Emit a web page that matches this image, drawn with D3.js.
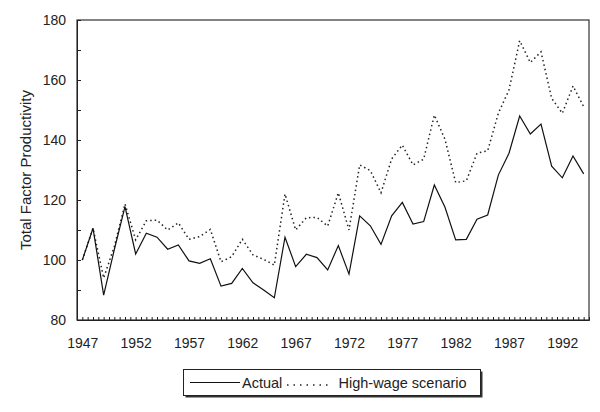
<!DOCTYPE html>
<html><head><meta charset="utf-8">
<script src="https://cdn.jsdelivr.net/npm/d3@7"></script>
<style>
body{margin:0;background:#fff;}
svg{display:block;font-family:"Liberation Sans",Arial,Helvetica,sans-serif;}
</style></head><body>
<svg id="c" width="600" height="412"></svg>
<script>
const years = d3.range(1947, 1995);
const actual = [100,110.6,88.3,103.5,117.8,102,108.9,107.6,103.6,105,99.7,98.9,100.4,91.3,92.2,
 97.2,92.4,90,87.4,107.6,97.8,101.9,100.8,96.7,104.8,95.3,114.7,111.4,105.2,114.7,
 119.2,112,112.8,125,117.6,106.7,106.9,113.6,115,128.3,135.6,148,142,145.3,131.3,127.4,134.7,128.7];
const highWage = [100,110.6,94,104.5,118.7,106.7,113.1,113.3,110,112.4,106.9,107.8,110.2,99.4,101.1,
 106.9,101.7,100.2,98.3,122,110,114.1,114.2,111.3,122.4,110,131.7,129.8,122.4,133.7,
 138.3,131.7,133.6,148.3,140.2,125.8,126.4,135.6,136.4,148.9,156.7,173.1,165.8,169.4,153.9,148.9,158,151.1];
const xTickLabels = [1947,1952,1957,1962,1967,1972,1977,1982,1987,1992];
const yTickLabels = [80,100,120,140,160,180];
const seriesNames = ["Actual","High-wage scenario"];

const svg = d3.select("#c");
const L=77, R=589, T=20, B=320;
const x = d3.scaleLinear().domain([1946.5,1994.5]).range([L,R]);
const y = d3.scaleLinear().domain([80,180]).range([B,T]);

svg.append("rect").attr("x",L).attr("y",T).attr("width",R-L).attr("height",B-T)
  .attr("fill","none").attr("stroke","#333").attr("stroke-width",1.2);

const yAx = d3.axisLeft(y).tickValues(d3.range(80,181,10)).tickSize(-4)
  .tickFormat(d => yTickLabels.includes(d) ? d : "");
const gy = svg.append("g").attr("transform",`translate(${L},0)`).call(yAx);
gy.select(".domain").attr("stroke","#222");
gy.selectAll(".tick line").attr("stroke","#222");
gy.selectAll("text").attr("x",-11).attr("font-size",14).attr("fill","#222")
  .style("font-family","Liberation Sans, Arial, sans-serif");

const xAx = d3.axisBottom(x).tickValues(d3.range(1946.5,1994.51,0.5)).tickSize(-3).tickFormat("");
const gx = svg.append("g").attr("transform",`translate(0,${B})`).call(xAx);
gx.select(".domain").attr("stroke","#222");
gx.selectAll(".tick line").attr("stroke","#222");
const xLab = d3.axisBottom(x).tickValues(xTickLabels).tickSize(0).tickFormat(d3.format("d"));
const gl = svg.append("g").attr("transform",`translate(0,${B})`).call(xLab);
gl.select(".domain").remove();
gl.selectAll("text").attr("y",18).attr("font-size",14).attr("fill","#222")
  .style("font-family","Liberation Sans, Arial, sans-serif");

svg.append("text").attr("transform",`translate(31,${(T+B)/2}) rotate(-90)`)
  .attr("text-anchor","middle").attr("font-size",15).attr("fill","#222").text("Total Factor Productivity");

const line = d3.line().x((d,i)=>x(years[i])).y(d=>y(d));
svg.append("path").datum(highWage).attr("d",line).attr("fill","none")
  .attr("stroke","#222").attr("stroke-width",1.5).attr("stroke-dasharray","1.5,3");
svg.append("path").datum(actual).attr("d",line).attr("fill","none")
  .attr("stroke","#111").attr("stroke-width",1.2);

const lg = svg.append("g");
lg.append("rect").attr("x",185.5).attr("y",371.5).attr("width",297).attr("height",26).attr("fill","#333");
lg.append("rect").attr("x",183.5).attr("y",369.5).attr("width",297).attr("height",26)
  .attr("fill","#fff").attr("stroke","#222").attr("stroke-width",1);
lg.append("line").attr("x1",190).attr("x2",240).attr("y1",382.5).attr("y2",382.5)
  .attr("stroke","#111").attr("stroke-width",1.2);
lg.append("text").attr("x",242).attr("y",388).attr("font-size",14.5).attr("fill","#222").text(seriesNames[0]);
lg.append("line").attr("x1",287).attr("x2",332).attr("y1",385).attr("y2",385)
  .attr("stroke","#222").attr("stroke-width",1.5).attr("stroke-dasharray","1.5,5");
lg.append("text").attr("x",338.5).attr("y",388).attr("font-size",14.5).attr("fill","#222").text(seriesNames[1]);
</script></body></html>
